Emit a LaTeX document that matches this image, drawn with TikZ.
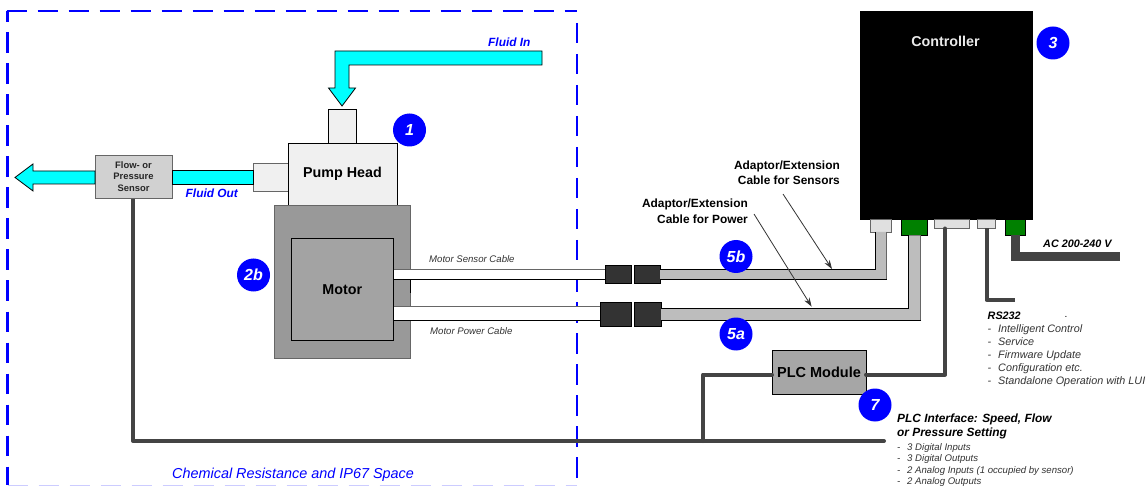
\documentclass[tikz,border=0pt]{standalone}
\usepackage{fontspec}
\setmainfont{Liberation Sans}
\usetikzlibrary{arrows.meta}
\definecolor{cy}{HTML}{00FFFF}
\definecolor{blu}{HTML}{0000FF}
\definecolor{lite}{HTML}{F0F0F0}
\definecolor{wire}{HTML}{444444}
\definecolor{cab}{HTML}{BDBDBD}
\definecolor{gn}{HTML}{008000}
\definecolor{conn}{HTML}{333333}
\tikzset{
 box/.style={draw=black,line width=0.8pt,rectangle,inner sep=0pt,outer sep=0pt,anchor=north west},
 softbox/.style={box,draw=black!60},
 pipe/.style={draw=black,line width=0.8pt,fill=cy},
 badge/.style={circle,fill=blu,text=white,minimum size=33pt,inner sep=0pt,font=\fontsize{16}{16}\selectfont\bfseries\itshape},
 wireline/.style={draw=wire,line width=4pt,line join=round,line cap=round},
 lbl/.style={inner sep=0pt,anchor=base west,align=left},
 flu/.style={lbl,text=blu,font=\fontsize{11.9}{12}\selectfont\bfseries\itshape},
 capt/.style={inner sep=0pt,anchor=base west,font=\fontsize{9.6}{11}\selectfont\itshape,text=black!80},
 adap/.style={inner sep=0pt,align=right,font=\fontsize{11.9}{15.5}\selectfont\bfseries},
 pt/.style={draw=black!80,line width=0.8pt,-{Stealth[length=9pt,width=6pt]}},
 item/.style={inner sep=0pt,anchor=base west,font=\fontsize{10.8}{12}\selectfont\itshape,text=black!80},
 small/.style={inner sep=0pt,anchor=base west,font=\fontsize{9.6}{11}\selectfont\itshape,text=black!80},
 plchead/.style={lbl,font=\fontsize{11.9}{14}\selectfont\bfseries\itshape},
 dot/.style={inner sep=0pt,font=\fontsize{10}{10}\selectfont},
 edge/.style={draw=black,line width=0.8pt},
 softedge/.style={draw=black!60,line width=0.8pt},
 zone/.style={blu,line width=2.4pt,dash pattern=on 20.5pt off 10.5pt},
}
\newcommand{\bx}[7][box]{\node[#1,fill=#7,minimum width=#5pt-#3pt,minimum height=#6pt-#4pt] (#2) at (#3,#4) {};}
\begin{document}
\begin{tikzpicture}[x=1pt,y=-1pt]
\useasboundingbox (0,0) rectangle (1148,486);
\fill[white] (0,0) rectangle (1148,486);
% space
\draw[zone] (6.5,11) -- (577,11);
\draw[zone,dash phase=9.5pt] (7.5,11) -- (7.5,485);
\draw[zone] (577,23) -- (577,485);
\draw[blu!20,line width=1pt,dash pattern=on 20.5pt off 10.5pt] (7.5,485.5) -- (577,485.5);
% wires
\coordinate (sdrop) at (133,198);
\coordinate (mainend) at (884,441);
\coordinate (mainc) at (133,441);
\coordinate (tee) at (703,441);
\coordinate (teeup) at (703,374.5);
\coordinate (plcR) at (866,374.5);
\coordinate (plcL) at (772,374.5);
\draw[wireline] (sdrop) -- (mainc) -- (mainend);
% Pipes
\bx[softbox]{sens}{95}{155}{172}{198}{black!18}
\node[inner sep=0pt,align=center,font=\fontsize{9.4}{11.8}\selectfont\bfseries,text=black!85] at (sens.center) {Flow- or\\Pressure\\Sensor};
\bx[softbox]{portL}{253.5}{163.5}{288}{191}{lite}
\draw[pipe] (253.5,170.5) -- (172,170.5) -- (172,184) -- (253.5,184) -- cycle;
\draw[pipe] (95,171) -- (33,171) -- (33,164) -- (15,177.5) -- (33,191) -- (33,184) -- (95,184) -- cycle;
\bx{portT}{328.5}{109.5}{356}{143}{lite}
\bx{head}{288}{143}{397}{205}{lite}
\node[font=\fontsize{14.3}{14}\selectfont\bfseries] at (head.center) {Pump Head};
\draw[pipe] (542,51) -- (335,51) -- (335,88) -- (328.5,88) -- (342,106) -- (355.5,88) -- (349,88) -- (349,65) -- (542,65) -- cycle;
\node[flu] at (488,47) {Fluid In};
\node[flu] at (185.5,198) {Fluid Out};
% Motor
\bx[softbox]{mout}{274}{205}{410.5}{358}{black!40}
\bx{minn}{291}{238.5}{393.5}{340.5}{black!36}
\node[font=\fontsize{14.3}{13}\selectfont\bfseries] at (minn.center) {Motor};
\draw[edge] (410.5,279.5) -- (410.5,293);
% Cables
\bx{cabS}{393.5}{269.5}{605.5}{279.5}{white}
\bx{cabP}{393.5}{306.5}{600}{320}{white}
\draw[softedge] (393.5,269.5) -- (605.5,269.5);
\draw[softedge] (393.5,306.5) -- (600,306.5);
\node[capt] at (429,262) {Motor Sensor Cable};
\node[capt] at (430,334) {Motor Power Cable};
% Controller
\bx{ctl}{860.5}{11}{1032}{219}{black}
\node[text=white!92!black,font=\fontsize{14.3}{13}\selectfont\bfseries] at (945.5,41) {Controller};
\bx[softbox]{p1}{870}{219}{891}{232}{black!12}
\bx{p2}{901.5}{219}{927}{235.5}{gn}
\bx[softbox]{p3}{934}{219}{969.5}{228.5}{black!12}
\bx[softbox]{p4}{977}{219}{995}{228.5}{black!12}
\bx{p5}{1005}{219}{1025}{235.5}{gn}
% grey cables
\bx{c1}{605.5}{265}{631}{283}{conn}
\bx{c2}{634}{265}{660}{283}{conn}
\bx{c3}{600}{302.7}{631}{326}{conn}
\bx{c4}{634}{302.7}{661}{326}{conn}
\fill[cab] (660,269.5) -- (875.5,269.5) -- (875.5,232) -- (886.5,232) -- (886.5,279.5) -- (660,279.5) -- cycle;
\draw[edge] (660,269.5) -- (875.5,269.5) -- (875.5,232);
\draw[softedge] (886.5,232) -- (886.5,279.5);
\draw[edge] (886.9,279.5) -- (660,279.5);
\fill[cab] (661,308) -- (908,308) -- (908,235.5) -- (920.7,235.5) -- (920.7,320) -- (661,320) -- cycle;
\draw[edge] (661,308) -- (908,308) -- (908,235.5);
\draw[softedge] (920.7,235.5) -- (920.7,320);
\draw[edge] (921.1,320) -- (661,320);
% PLC
\bx{plc}{772}{350}{866}{394}{black!35}
\node[font=\fontsize{14.5}{13}\selectfont\bfseries] at (plc.center) {PLC Module};
\draw[wireline] (tee) -- (teeup) -- (plcL);
\draw[wireline] (plcR) -- (945,374.5) -- (945,228.5);
\draw[wireline,line cap=butt] (986.5,228.5) -- (986.5,300) -- (1014.5,300);
\draw[draw=wire,line width=9pt,line join=miter] (1015.5,235.5) -- (1015.5,256.5) -- (1120,256.5);
% labels
\node[adap,anchor=north east] (as) at (840,160.5) {Adaptor/Extension\\Cable for Sensors};
\node[adap,anchor=north east] (ap) at (748,199) {Adaptor/Extension\\Cable for Power};
\coordinate (asT) at (832,269);
\coordinate (apT) at (811.6,306.6);
\draw[pt] (783,194) -- (asT);
\draw[pt] (754,214) -- (apT);
\node[lbl,font=\fontsize{10.8}{12}\selectfont\bfseries\itshape] at (1043,248) {AC 200-240 V};
\node[lbl,font=\fontsize{10.8}{12}\selectfont\bfseries\itshape] at (987.5,319) {RS232};
\node[dot] at (1066,316.5) {.};
\foreach \i/\y/\t in {a/332.5/Intelligent Control,b/345.5/Service,c/358.5/Firmware Update,d/371.5/Configuration etc.,e/384.5/Standalone Operation with LUI}{
 \node[item] (dh\i) at (987.5,\y) {-};
 \node[item] (it\i) at (998,\y) {\t};
}
\node[plchead] (ph1) at (897,422.7) {PLC Interface: Speed, Flow};
\node[plchead] (ph2) at (897,436.7) {or Pressure Setting};
\foreach \i/\y/\t in {a/450.7/3 Digital Inputs,b/461.7/3 Digital Outputs,c/473.3/2 Analog Inputs (1 occupied by sensor),d/484.3/2 Analog Outputs}{
 \node[small] (sd\i) at (897,\y) {-};
 \node[small] (st\i) at (907,\y) {\t};
}
\node[lbl,text=blu,font=\fontsize{14.4}{14}\selectfont\itshape] at (172,478) {Chemical Resistance and IP67 Space};
% badges
\node[badge] (b1) at (409.5,130) {1};
\node[badge] (b2b) at (253.5,275) {2b};
\node[badge] (b3) at (1053,43) {3};
\node[badge] (b5b) at (736,256.5) {5b};
\node[badge] (b5a) at (736,334) {5a};
\node[badge] (b7) at (875,405) {7};
\end{tikzpicture}
\end{document}
